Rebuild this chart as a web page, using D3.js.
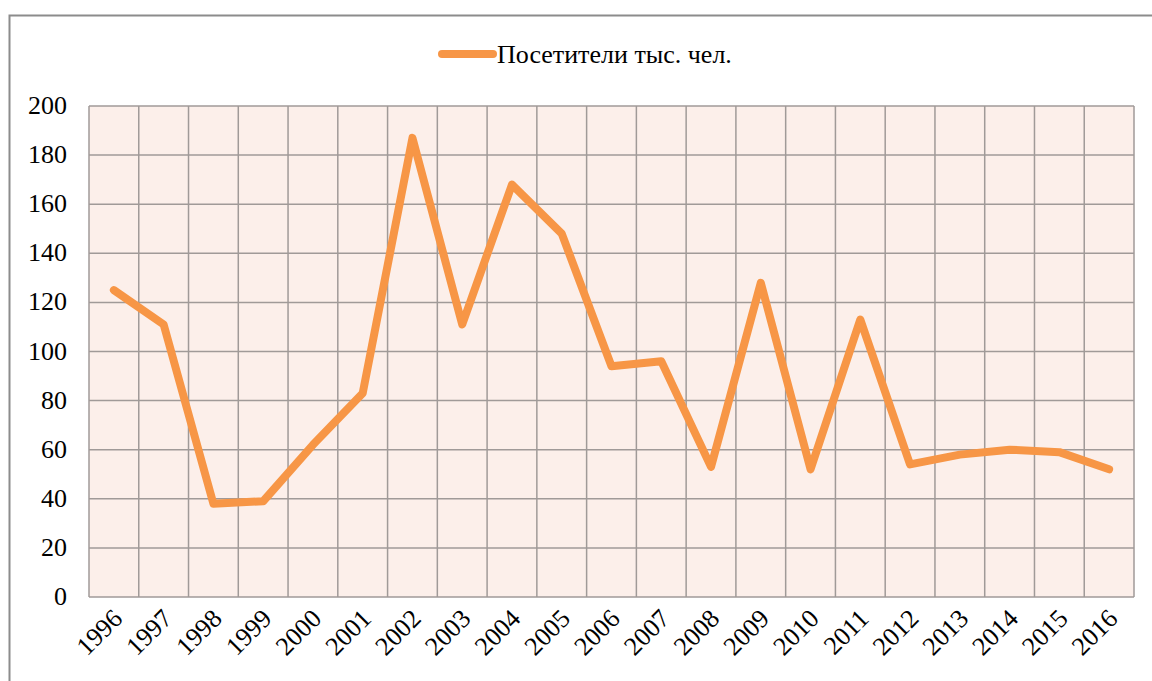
<!DOCTYPE html>
<html>
<head>
<meta charset="utf-8">
<script src="https://cdn.jsdelivr.net/npm/d3@7"></script>
<style>
  body { margin: 0; background: #fff; }
</style>
</head>
<body>
<div id="vis"></div>
<script>
const FRAME_WIDTH = 1152;
const FRAME_HEIGHT = 681;
const MARGINS = {left: 89, top: 106};

// data
const years = ["1996", "1997", "1998", "1999", "2000", "2001", "2002", "2003", "2004", "2005", "2006",
               "2007", "2008", "2009", "2010", "2011", "2012", "2013", "2014", "2015", "2016"];
const visitors = [125, 111, 38, 39, 62, 83, 187, 111, 168, 148, 94,
                  96, 53, 128, 52, 113, 54, 58, 60, 59, 52];
const yTicks = [0, 20, 40, 60, 80, 100, 120, 140, 160, 180, 200];
const seriesName = "Посетители тыс. чел.";

const PLOT_RIGHT = 1134;
const PLOT_BOTTOM = 597;
const FONT = "'Times New Roman', 'Liberation Serif', Tinos, 'Noto Serif', Times, serif";

const FRAME = d3.select("#vis")
  .append("svg")
    .attr("width", FRAME_WIDTH)
    .attr("height", FRAME_HEIGHT)
    .style("font-family", FONT);

// outer chart border (runs off the right and bottom edges)
FRAME.append("rect")
    .attr("x", 9.5)
    .attr("y", 15.5)
    .attr("width", 1160)
    .attr("height", 700)
    .attr("fill", "#fff")
    .attr("stroke", "#8c8c8c")
    .attr("stroke-width", 2);

const X_SCALE = d3.scaleBand()
    .domain(years)
    .range([MARGINS.left, PLOT_RIGHT]);

const Y_SCALE = d3.scaleLinear()
    .domain([0, 200])
    .range([PLOT_BOTTOM, MARGINS.top]);

// plot background
FRAME.append("rect")
    .attr("x", MARGINS.left)
    .attr("y", MARGINS.top)
    .attr("width", PLOT_RIGHT - MARGINS.left)
    .attr("height", PLOT_BOTTOM - MARGINS.top)
    .attr("fill", "#fcefea");

// horizontal grid
FRAME.append("g")
  .selectAll("line")
  .data(yTicks)
  .enter()
  .append("line")
    .attr("x1", MARGINS.left)
    .attr("x2", PLOT_RIGHT)
    .attr("y1", d => Y_SCALE(d))
    .attr("y2", d => Y_SCALE(d))
    .attr("stroke", "#a09a98")
    .attr("stroke-width", 1.5);

// vertical grid at band edges
const edges = years.map(d => X_SCALE(d)).concat([PLOT_RIGHT]);
FRAME.append("g")
  .selectAll("line")
  .data(edges)
  .enter()
  .append("line")
    .attr("x1", d => d)
    .attr("x2", d => d)
    .attr("y1", MARGINS.top)
    .attr("y2", PLOT_BOTTOM)
    .attr("stroke", "#a09a98")
    .attr("stroke-width", 1.5);

// y tick labels
FRAME.append("g")
  .selectAll("text")
  .data(yTicks)
  .enter()
  .append("text")
    .attr("x", 67)
    .attr("y", d => Y_SCALE(d) + 8)
    .attr("text-anchor", "end")
    .style("font-size", "26px")
    .attr("fill", "#000")
    .text(d => d);

// x tick labels, rotated
FRAME.append("g")
  .selectAll("text")
  .data(years)
  .enter()
  .append("text")
    .attr("transform", d => "translate(" + (X_SCALE(d) + X_SCALE.bandwidth() / 2 + 10) + "," + 620 + ") rotate(-45)")
    .attr("text-anchor", "end")
    .style("font-size", "26px")
    .attr("fill", "#000")
    .text(d => d);

// the line
const line = d3.line()
    .x((d, i) => X_SCALE(years[i]) + X_SCALE.bandwidth() / 2)
    .y(d => Y_SCALE(d));

FRAME.append("path")
    .datum(visitors)
    .attr("d", line)
    .attr("fill", "none")
    .attr("stroke", "#f79646")
    .attr("stroke-width", 8)
    .attr("stroke-linejoin", "round")
    .attr("stroke-linecap", "round");

// legend
FRAME.append("line")
    .attr("x1", 442)
    .attr("x2", 493)
    .attr("y1", 54)
    .attr("y2", 54)
    .attr("stroke", "#f79646")
    .attr("stroke-width", 8)
    .attr("stroke-linecap", "round");

FRAME.append("text")
    .attr("x", 497)
    .attr("y", 63)
    .style("font-size", "26px")
    .attr("fill", "#000")
    .text(seriesName);
</script>
</body>
</html>
